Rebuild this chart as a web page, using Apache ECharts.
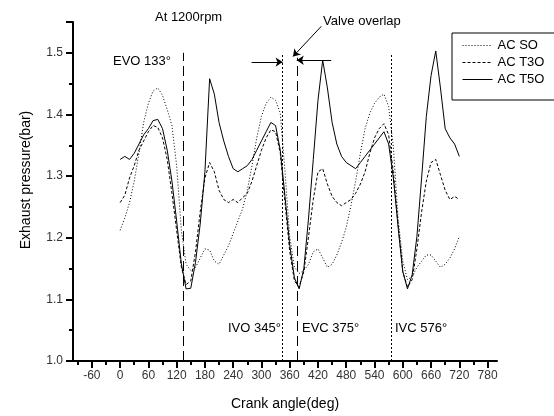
<!DOCTYPE html>
<html>
<head>
<meta charset="utf-8">
<script src="https://cdn.jsdelivr.net/npm/echarts@6/dist/echarts.min.js"></script>
<style>
  html, body { margin: 0; padding: 0; background: #fff; }
  #chart { width: 554px; height: 416px; }
</style>
</head>
<body>
<div id="chart"></div>
<script>
// crank angle (deg) of the samples
const angles = [0, 10, 20, 30, 40, 50, 60, 70, 80, 90, 100, 110, 120, 130, 140, 150, 160, 170, 180, 190,
  200, 210, 220, 230, 240, 250, 260, 270, 280, 290, 300, 310, 320, 330, 340, 350, 360, 370, 380, 390,
  400, 410, 420, 430, 440, 450, 460, 470, 480, 490, 500, 510, 520, 530, 540, 550, 560, 570, 580, 590,
  600, 610, 620, 630, 640, 650, 660, 670, 680, 690, 700, 710, 720]

// exhaust pressure (bar)
const acSO = [1.212, 1.232, 1.257, 1.292, 1.337, 1.387, 1.418, 1.438, 1.443, 1.431, 1.408, 1.382, 1.317, 1.212, 1.157, 1.147, 1.152, 1.167, 1.182, 1.180,
  1.162, 1.157, 1.172, 1.187, 1.207, 1.227, 1.247, 1.277, 1.317, 1.362, 1.397, 1.418, 1.428, 1.423, 1.402, 1.307, 1.202, 1.152, 1.142, 1.147,
  1.157, 1.177, 1.182, 1.167, 1.152, 1.157, 1.172, 1.192, 1.217, 1.252, 1.292, 1.337, 1.377, 1.402, 1.418, 1.428, 1.433, 1.413, 1.347, 1.232,
  1.162, 1.132, 1.137, 1.152, 1.162, 1.172, 1.172, 1.162, 1.152, 1.157, 1.167, 1.182, 1.202]
const acT3O = [1.257, 1.269, 1.297, 1.317, 1.342, 1.357, 1.372, 1.382, 1.379, 1.362, 1.327, 1.272, 1.212, 1.152, 1.124, 1.130, 1.177, 1.242, 1.297, 1.322,
  1.307, 1.277, 1.262, 1.257, 1.262, 1.257, 1.265, 1.272, 1.292, 1.317, 1.342, 1.362, 1.375, 1.372, 1.337, 1.257, 1.178, 1.130, 1.120, 1.145,
  1.202, 1.262, 1.307, 1.312, 1.287, 1.267, 1.257, 1.252, 1.257, 1.262, 1.272, 1.287, 1.307, 1.337, 1.362, 1.377, 1.385, 1.367, 1.307, 1.222,
  1.145, 1.120, 1.132, 1.182, 1.242, 1.292, 1.322, 1.327, 1.302, 1.277, 1.262, 1.267, 1.262]
const acT5O = [1.327, 1.332, 1.327, 1.337, 1.352, 1.367, 1.377, 1.390, 1.392, 1.377, 1.342, 1.292, 1.227, 1.158, 1.117, 1.118, 1.160, 1.222, 1.307, 1.458,
  1.433, 1.387, 1.357, 1.332, 1.312, 1.307, 1.312, 1.317, 1.327, 1.342, 1.357, 1.372, 1.387, 1.382, 1.342, 1.267, 1.188, 1.135, 1.117, 1.150,
  1.232, 1.327, 1.423, 1.488, 1.443, 1.387, 1.352, 1.332, 1.322, 1.317, 1.312, 1.322, 1.332, 1.342, 1.352, 1.362, 1.372, 1.352, 1.297, 1.218,
  1.145, 1.117, 1.140, 1.202, 1.297, 1.397, 1.463, 1.503, 1.443, 1.377, 1.362, 1.352, 1.332]

// axis ticks
const xLabels = [-60, 0, 60, 120, 180, 240, 300, 360, 420, 480, 540, 600, 660, 720, 780]
const xMinor = [-90, -30, 30, 90, 150, 210, 270, 330, 390, 450, 510, 570, 630, 690, 750]

// valve events: angle, top of the marker line, dash style
const valveAngles = [133, 345, 375, 576]
const valveTops = [1.50, 1.497, 1.492, 1.497]
const valveDash = [[10, 5], [2, 2], [10, 5], [2, 2]]

const FONT = '"Liberation Sans", Arial, sans-serif'
const chart = echarts.init(document.getElementById('chart'))

const pairs = (ys) => angles.map((a, i) => [a, ys[i]])

const valveLines = valveAngles.map((a, i) => [
  { coord: [a, 1.0], lineStyle: { type: valveDash[i], color: '#000', width: 1 } },
  { coord: [a, valveTops[i]] }
])

const option = {
  animation: false,
  backgroundColor: '#fff',
  grid: { left: 73, right: 57, top: 22, bottom: 54 },
  legend: {
    orient: 'vertical',
    left: 452,
    top: 33,
    padding: [6, 40, 14, 10],
    itemGap: 4,
    itemWidth: 30,
    itemHeight: 14,
    borderColor: '#000',
    borderWidth: 1,
    itemStyle: { color: 'transparent', borderWidth: 0, opacity: 0 },
    lineStyle: { width: 1 },
    textStyle: { fontFamily: FONT, fontSize: 13, color: '#000' },
    data: ['AC SO', 'AC T3O', 'AC T5O']
  },
  xAxis: [
    {
      type: 'value', min: -100, max: 800,
      splitLine: { show: false },
      axisLine: { onZero: false, lineStyle: { color: '#000', width: 2 } },
      axisTick: { customValues: xLabels, length: 7, lineStyle: { color: '#000', width: 2 } },
      axisLabel: { customValues: xLabels, color: '#333', fontFamily: FONT, fontSize: 12, margin: 9 },
      name: 'Crank angle(deg)', nameLocation: 'middle', nameGap: 36,
      nameTextStyle: { fontFamily: FONT, fontSize: 14, color: '#000' }
    },
    {
      type: 'value', min: -100, max: 800, position: 'bottom',
      splitLine: { show: false },
      axisLine: { show: false, onZero: false },
      axisTick: { customValues: xMinor, length: 4, lineStyle: { color: '#000', width: 2 } },
      axisLabel: { show: false }
    }
  ],
  yAxis: {
    type: 'value', min: 1.0, max: 1.55, interval: 0.1,
    splitLine: { show: false },
    axisLine: { show: true, onZero: false, lineStyle: { color: '#000', width: 2 } },
    axisTick: { show: true, length: 7, lineStyle: { color: '#000', width: 2 } },
    minorTick: { show: true, splitNumber: 2, length: 4, lineStyle: { color: '#000', width: 2 } },
    axisLabel: { color: '#333', fontFamily: FONT, fontSize: 12, margin: 10, showMaxLabel: false,
      formatter: (v) => v.toFixed(1) }
  },
  series: [
    {
      name: 'AC SO', type: 'line', showSymbol: false, symbol: 'none',
      lineStyle: { color: '#000', width: 1, type: [1, 2] },
      itemStyle: { color: '#000' },
      data: pairs(acSO),
      markLine: {
        silent: true, symbol: 'none', animation: false,
        label: { show: false },
        data: valveLines
      }
    },
    {
      name: 'AC T3O', type: 'line', showSymbol: false, symbol: 'none',
      lineStyle: { color: '#000', width: 1, type: [3, 2] },
      itemStyle: { color: '#000' },
      data: pairs(acT3O),
      markLine: {
        silent: true, symbol: ['none', 'arrow'], symbolSize: [7, 7], animation: false,
        label: { show: false },
        lineStyle: { color: '#000', width: 1, type: 'solid' },
        data: [
          [{ coord: [279, 1.485] }, { coord: [345, 1.485] }],
          [{ coord: [448, 1.488] }, { coord: [375, 1.488] }],
          [{ coord: [427, 1.543] }, { coord: [367, 1.494] }]
        ]
      }
    },
    {
      name: 'AC T5O', type: 'line', showSymbol: false, symbol: 'none',
      lineStyle: { color: '#000', width: 1 },
      itemStyle: { color: '#000' },
      data: pairs(acT5O)
    }
  ],
  graphic: [
    { type: 'text', left: 155, top: 11, style: { text: 'At 1200rpm', font: '13px ' + FONT, fill: '#000' } },
    { type: 'text', left: 323, top: 15, style: { text: 'Valve overlap', font: '13px ' + FONT, fill: '#000' } },
    { type: 'text', left: 113, top: 55, style: { text: 'EVO 133°', font: '13px ' + FONT, fill: '#000' } },
    { type: 'text', left: 228, top: 322, style: { text: 'IVO 345°', font: '13px ' + FONT, fill: '#000' } },
    { type: 'text', left: 302, top: 322, style: { text: 'EVC 375°', font: '13px ' + FONT, fill: '#000' } },
    { type: 'text', left: 395, top: 322, style: { text: 'IVC 576°', font: '13px ' + FONT, fill: '#000' } },
    { type: 'text', x: 26, y: 180, rotation: Math.PI / 2,
      style: { text: 'Exhaust pressure(bar)', font: '14px ' + FONT, fill: '#000', align: 'center', verticalAlign: 'middle' } }
  ]
}

chart.setOption(option)
</script>
</body>
</html>
